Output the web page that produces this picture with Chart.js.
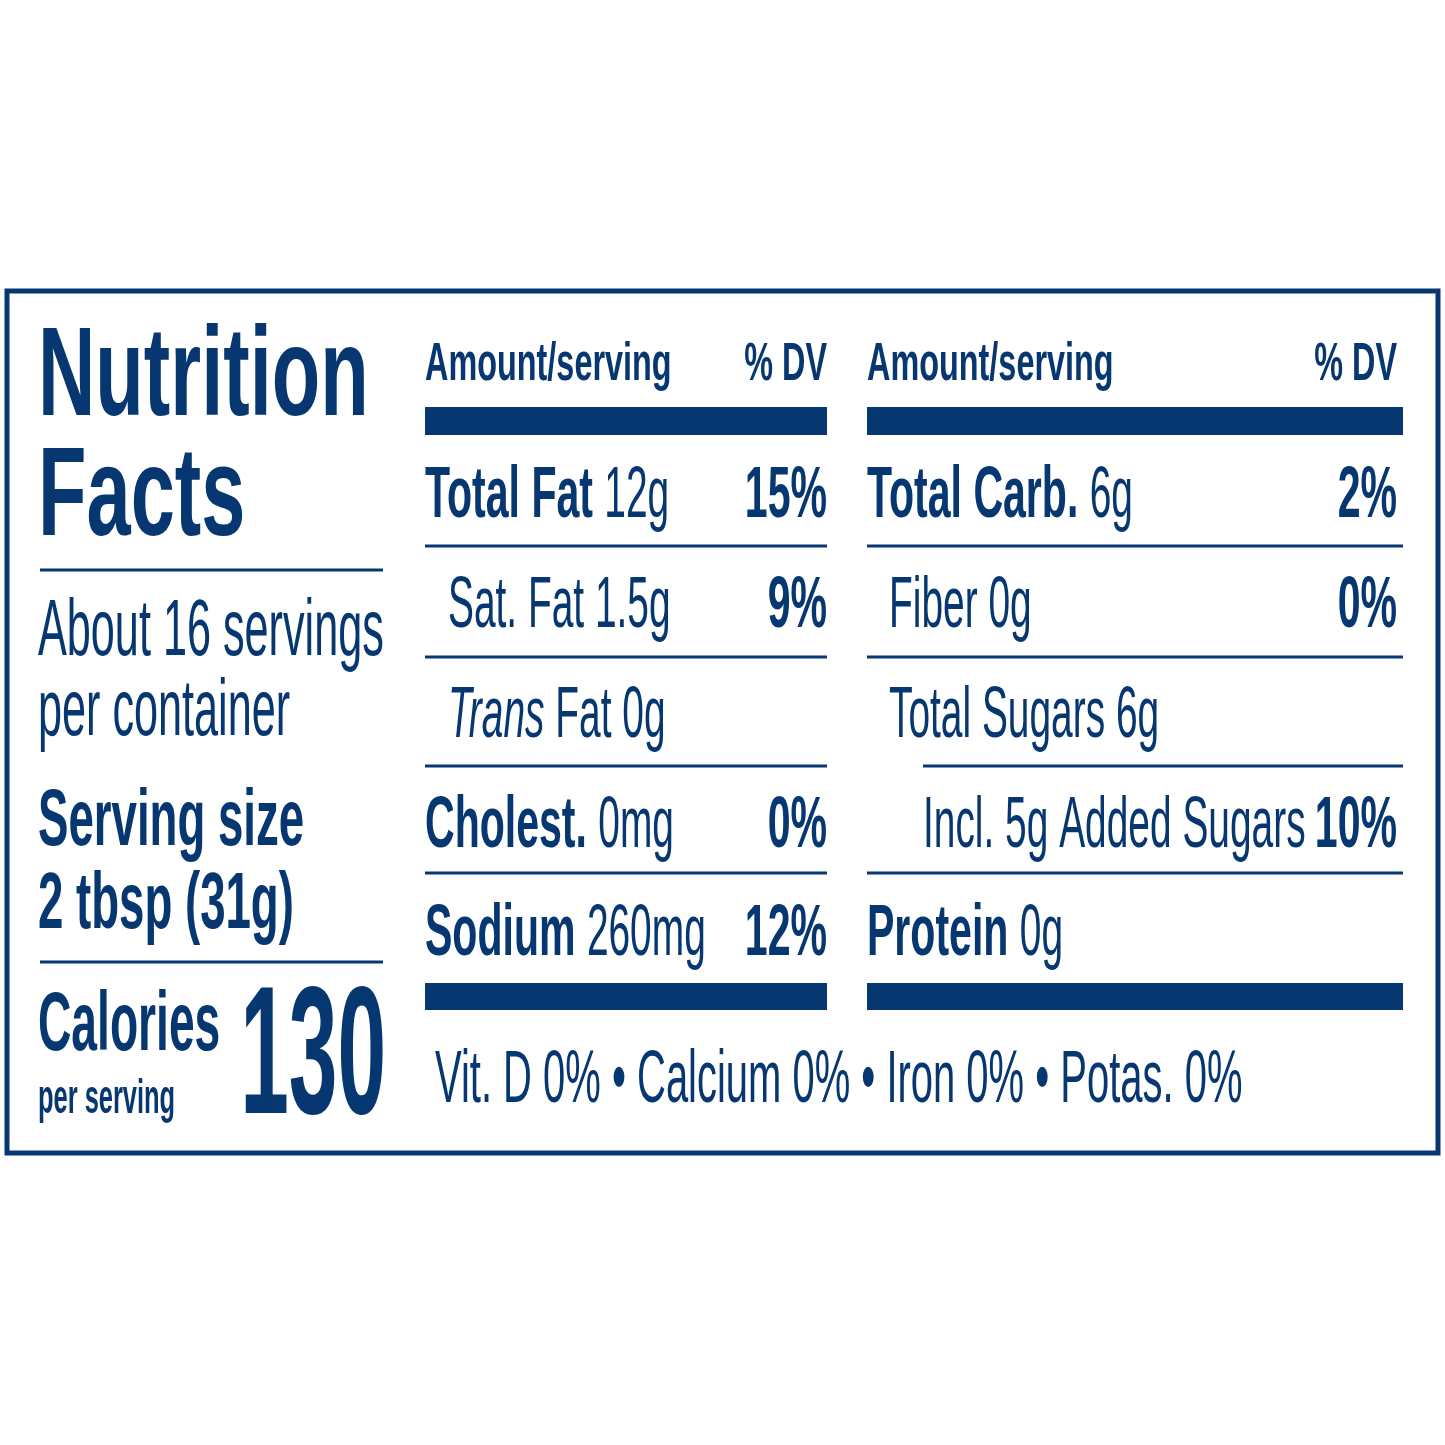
<!DOCTYPE html>
<html>
<head>
<meta charset="utf-8">
<script src="https://cdn.jsdelivr.net/npm/chart.js@4/dist/chart.umd.min.js"></script>
<style>
  html, body { margin: 0; padding: 0; background: #fff; }
  canvas { display: block; }
</style>
</head>
<body>
<canvas id="label" width="1445" height="1445"></canvas>
<script>
// label content
var titleLines = ['Nutrition', 'Facts'];
var servingLines = ['About 16 servings', 'per container'];
var servingSize = ['Serving size', '2 tbsp (31g)'];
var calories = 130;

var leftNames   = ['Total Fat', 'Sat. Fat', 'Trans', 'Cholest.', 'Sodium'];
var leftAmounts = ['12g', '1.5g', 'Fat 0g', '0mg', '260mg'];
var leftDV      = ['15%', '9%', '', '0%', '12%'];
var leftBold    = [true, false, false, true, true];

var rightNames   = ['Total Carb.', 'Fiber', 'Total Sugars', 'Incl. 5g Added Sugars', 'Protein'];
var rightAmounts = ['6g', '0g', '6g', '', '0g'];
var rightDV      = ['2%', '0%', '', '10%', ''];
var rightBold    = [true, false, false, false, true];
var rightIndent  = [0, 22, 22, 56, 0];

var footer = 'Vit. D 0% \u2022 Calcium 0% \u2022 Iron 0% \u2022 Potas. 0%';

var NAVY = '#073770';
var rowBase = [517, 627, 737, 847, 955];
var rowLine = [546, 657, 766, 873];

function txt(ctx, s, x, y, size, bold, align, italic, sxOver) {
  var sx = sxOver || (bold ? 0.57 : 0.54);
  ctx.save();
  ctx.font = (italic ? 'italic ' : '') + (bold ? 'bold ' : '') + size + 'px "Liberation Sans", Arial, sans-serif';
  ctx.fillStyle = NAVY;
  ctx.textBaseline = 'alphabetic';
  ctx.textAlign = align || 'left';
  ctx.translate(x, y);
  ctx.scale(sx, 1);
  ctx.fillText(s, 0, 0);
  var w = ctx.measureText(s).width * sx;
  ctx.restore();
  return w;
}

var labelPlugin = {
  id: 'labelPlugin',
  afterDraw: function (chart) {
    var ctx = chart.ctx;
    var X = function (v) { return chart.scales.x.getPixelForValue(v); };
    var Y = function (v) { return chart.scales.y.getPixelForValue(v); };
    function hline(x1, x2, y, w) {
      ctx.save(); ctx.strokeStyle = NAVY; ctx.lineWidth = w;
      ctx.beginPath(); ctx.moveTo(X(x1), Y(y)); ctx.lineTo(X(x2), Y(y)); ctx.stroke(); ctx.restore();
    }
    function bar(x1, x2, y1, y2) {
      ctx.save(); ctx.fillStyle = NAVY;
      ctx.fillRect(X(x1), Y(y1), X(x2) - X(x1), Y(y2) - Y(y1)); ctx.restore();
    }
    // border
    ctx.save(); ctx.strokeStyle = NAVY; ctx.lineWidth = 5;
    ctx.strokeRect(X(7), Y(291), X(1438) - X(7), Y(1153) - Y(291)); ctx.restore();

    // left panel
    txt(ctx, titleLines[0], X(38), Y(415), 126, true, 'left', false, 0.63);
    txt(ctx, titleLines[1], X(38), Y(535), 126, true, 'left', false, 0.63);
    hline(40, 383, 570, 3);
    txt(ctx, servingLines[0], X(38), Y(655), 80, false);
    txt(ctx, servingLines[1], X(38), Y(735), 80, false);
    txt(ctx, servingSize[0], X(38), Y(845), 80, true);
    txt(ctx, servingSize[1], X(38), Y(928), 80, true);
    hline(40, 383, 962, 3);
    txt(ctx, 'Calories', X(38), Y(1050), 84, true, 'left', false, 0.55);
    txt(ctx, 'per serving', X(38), Y(1113), 48, true, 'left', false, 0.53);
    txt(ctx, String(calories), X(386), Y(1113), 182, true, 'right', false, 0.48);

    // middle column
    txt(ctx, 'Amount/serving', X(425), Y(380), 54, true, 'left', false, 0.6);
    txt(ctx, '% DV', X(827), Y(380), 54, true, 'right', false, 0.6);
    bar(425, 827, 407, 435);
    for (var i = 0; i < leftNames.length; i++) {
      var x0 = leftBold[i] ? 425 : 448;
      var w;
      if (leftNames[i] === 'Trans') {
        w = txt(ctx, 'Trans', X(x0), Y(rowBase[i]), 72, false, 'left', true);
        txt(ctx, ' ' + leftAmounts[i], X(x0) + w, Y(rowBase[i]), 72, false);
      } else {
        w = txt(ctx, leftNames[i] + ' ', X(x0), Y(rowBase[i]), 72, leftBold[i]);
        txt(ctx, leftAmounts[i], X(x0) + w, Y(rowBase[i]), 72, false);
      }
      if (leftDV[i]) txt(ctx, leftDV[i], X(827), Y(rowBase[i]), 72, true, 'right');
      if (i < rowLine.length) hline(425, 827, rowLine[i], 3);
    }
    bar(425, 827, 983, 1010);

    // right column
    txt(ctx, 'Amount/serving', X(867), Y(380), 54, true, 'left', false, 0.6);
    txt(ctx, '% DV', X(1397), Y(380), 54, true, 'right', false, 0.6);
    bar(867, 1403, 407, 435);
    for (var j = 0; j < rightNames.length; j++) {
      var rx = 867 + rightIndent[j];
      var rw = txt(ctx, rightNames[j] + ' ', X(rx), Y(rowBase[j]), 72, rightBold[j]);
      if (rightAmounts[j]) txt(ctx, rightAmounts[j], X(rx) + rw, Y(rowBase[j]), 72, false);
      if (rightDV[j]) txt(ctx, rightDV[j], X(1397), Y(rowBase[j]), 72, true, 'right');
    }
    hline(867, 1403, 546, 3);
    hline(867, 1403, 657, 3);
    hline(923, 1403, 766, 3);
    hline(867, 1403, 873, 3);
    bar(867, 1403, 983, 1010);

    // footer
    txt(ctx, footer, X(435), Y(1102), 74, false);
  }
};

new Chart(document.getElementById('label'), {
  type: 'scatter',
  data: { datasets: [{ data: [] }] },
  options: {
    responsive: false,
    animation: false,
    devicePixelRatio: 1,
    layout: { padding: 0 },
    scales: {
      x: { type: 'linear', min: 0, max: 1445, display: false },
      y: { type: 'linear', min: 0, max: 1445, reverse: true, display: false }
    },
    plugins: { legend: { display: false }, tooltip: { enabled: false } }
  },
  plugins: [labelPlugin]
});
</script>
</body>
</html>
